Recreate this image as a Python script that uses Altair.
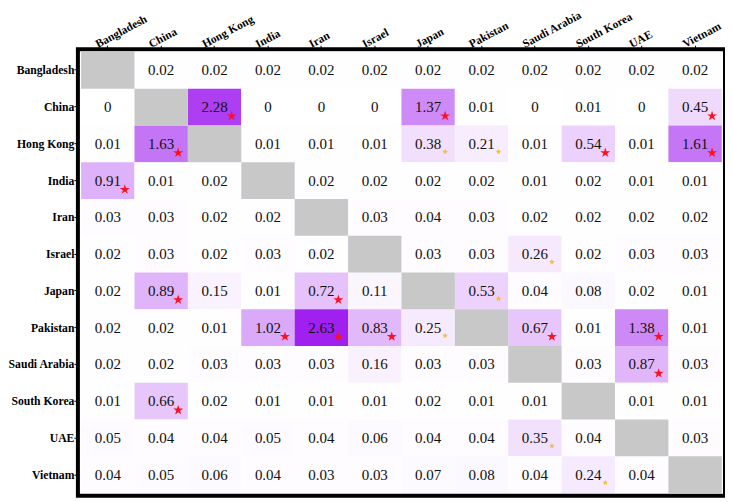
import altair as alt
import pandas as pd

countries = ["Bangladesh", "China", "Hong Kong", "India", "Iran", "Israel",
             "Japan", "Pakistan", "Saudi Arabia", "South Korea", "UAE", "Vietnam"]

# rows = source (y), columns = target (x); None on the diagonal
row_bangladesh = [None, 0.02, 0.02, 0.02, 0.02, 0.02, 0.02, 0.02, 0.02, 0.02, 0.02, 0.02]
row_china = [0, None, 2.28, 0, 0, 0, 1.37, 0.01, 0, 0.01, 0, 0.45]
row_hongkong = [0.01, 1.63, None, 0.01, 0.01, 0.01, 0.38, 0.21, 0.01, 0.54, 0.01, 1.61]
row_india = [0.91, 0.01, 0.02, None, 0.02, 0.02, 0.02, 0.02, 0.01, 0.02, 0.01, 0.01]
row_iran = [0.03, 0.03, 0.02, 0.02, None, 0.03, 0.04, 0.03, 0.02, 0.02, 0.02, 0.02]
row_israel = [0.02, 0.03, 0.02, 0.03, 0.02, None, 0.03, 0.03, 0.26, 0.02, 0.03, 0.03]
row_japan = [0.02, 0.89, 0.15, 0.01, 0.72, 0.11, None, 0.53, 0.04, 0.08, 0.02, 0.01]
row_pakistan = [0.02, 0.02, 0.01, 1.02, 2.63, 0.83, 0.25, None, 0.67, 0.01, 1.38, 0.01]
row_saudi = [0.02, 0.02, 0.03, 0.03, 0.03, 0.16, 0.03, 0.03, None, 0.03, 0.87, 0.03]
row_southkorea = [0.01, 0.66, 0.02, 0.01, 0.01, 0.01, 0.02, 0.01, 0.01, None, 0.01, 0.01]
row_uae = [0.05, 0.04, 0.04, 0.05, 0.04, 0.06, 0.04, 0.04, 0.35, 0.04, None, 0.03]
row_vietnam = [0.04, 0.05, 0.06, 0.04, 0.03, 0.03, 0.07, 0.08, 0.04, 0.24, 0.04, None]

rows = [row_bangladesh, row_china, row_hongkong, row_india, row_iran, row_israel,
        row_japan, row_pakistan, row_saudi, row_southkorea, row_uae, row_vietnam]

# significance markers: (source, target)
red_stars = [("China", "Hong Kong"), ("China", "Japan"), ("China", "Vietnam"),
             ("Hong Kong", "China"), ("Hong Kong", "South Korea"), ("Hong Kong", "Vietnam"),
             ("India", "Bangladesh"), ("Japan", "China"), ("Japan", "Iran"),
             ("Pakistan", "India"), ("Pakistan", "Iran"), ("Pakistan", "Israel"),
             ("Pakistan", "Saudi Arabia"), ("Pakistan", "UAE"), ("Saudi Arabia", "UAE"),
             ("South Korea", "China")]
orange_stars = [("Hong Kong", "Japan"), ("Hong Kong", "Pakistan"), ("Israel", "Saudi Arabia"),
                ("Japan", "Pakistan"), ("Pakistan", "Japan"), ("UAE", "Saudi Arabia"),
                ("Vietnam", "South Korea")]

records = []
for src, vals in zip(countries, rows):
    for tgt, v in zip(countries, vals):
        sig = ""
        if (src, tgt) in red_stars:
            sig = "red"
        elif (src, tgt) in orange_stars:
            sig = "orange"
        records.append({
            "source": src, "target": tgt, "value": v,
            "label": "" if v is None else f"{v:g}",
            "sig": sig,
        })
df = pd.DataFrame(records)

STAR = ("M0,-1L0.2245,-0.309L0.951,-0.309L0.363,0.118L0.588,0.809L0,0.382"
        "L-0.588,0.809L-0.363,0.118L-0.951,-0.309L-0.2245,-0.309Z")

FONT = "Liberation Serif"

x = alt.X("target:N", sort=countries,
          scale=alt.Scale(paddingInner=0, paddingOuter=0.06),
          axis=alt.Axis(orient="top", title=None, labelAngle=332, domain=False,
                        tickSize=4, tickColor="black", labelPadding=-4, labelOffset=-9,
                        labelAlign="left", labelBaseline="bottom",
                        labelFont=FONT, labelFontWeight="bold",
                        labelFontSize=11.5, labelColor="black", grid=False))
y = alt.Y("source:N", sort=countries,
          scale=alt.Scale(paddingInner=0, paddingOuter=0.07),
          axis=alt.Axis(title=None, domain=False, tickSize=4, tickColor="black",
                        labelPadding=0, labelFont=FONT,
                        labelFontWeight="bold", labelFontSize=11.7, labelColor="black",
                        grid=False))

base = alt.Chart(df)

cells = base.transform_filter("datum.value != null").mark_rect().encode(
    x=x, y=y,
    color=alt.Color("value:Q", legend=None,
                    scale=alt.Scale(domain=[0, 2.63], range=["#ffffff", "#a020f0"],
                                    interpolate="rgb")),
)
diag = base.transform_filter("datum.value == null").mark_rect(color="#c8c8c8").encode(x=x, y=y)

text = base.transform_filter("datum.value != null").mark_text(
    font=FONT, fontSize=15, color="#111111"
).encode(x=x, y=y, text="label:N")

red = base.transform_filter("datum.sig == 'red'").mark_point(
    shape=STAR, filled=True, size=110, color="#ff1020", opacity=1,
    xOffset=17, yOffset=9
).encode(x=x, y=y)

orange = base.transform_filter("datum.sig == 'orange'").mark_point(
    shape=STAR, filled=True, size=40, color="#f4bc38", opacity=1,
    xOffset=17, yOffset=8
).encode(x=x, y=y)

chart = alt.layer(cells, diag, text, red, orange).properties(
    width=648, height=447,
    padding={"left": 70, "top": 41, "right": 0, "bottom": 2},
    autosize=alt.AutoSizeParams(type="none"),
).configure_view(stroke="black", strokeWidth=4)

chart.save("out.html", embed_options={"renderer": "svg", "actions": False})
